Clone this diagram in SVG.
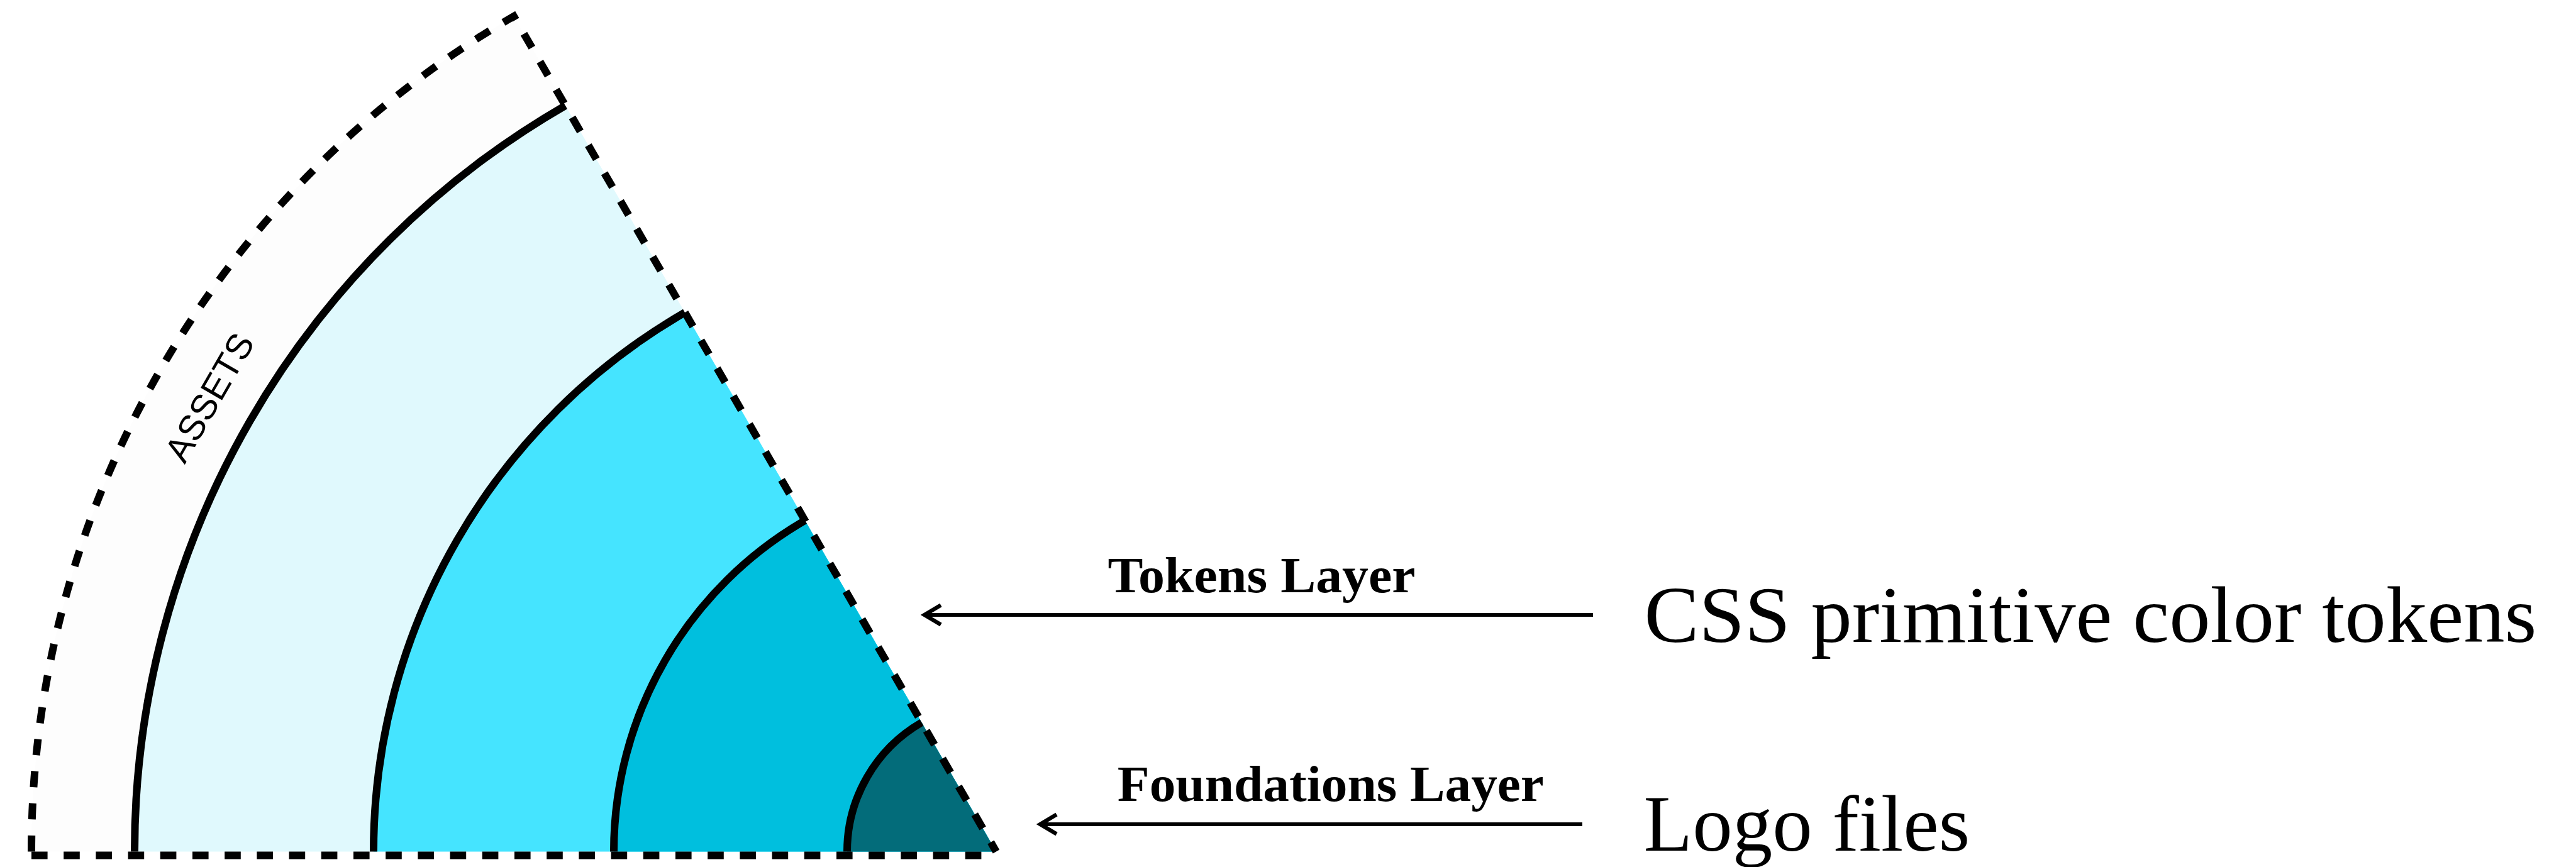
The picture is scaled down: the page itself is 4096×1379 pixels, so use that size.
<svg xmlns="http://www.w3.org/2000/svg" width="4096" height="1379" viewBox="0 0 4096 1379">
  <defs>
    <style>
      .arc { fill: none; stroke: #000; stroke-width: 12; stroke-linecap: butt; }
      .dash { fill: none; stroke: #000; stroke-width: 12; stroke-dasharray: 25.6 25.6; }
      .layer-label { font-family: "Liberation Serif", "Times New Roman", serif; font-weight: 700; font-size: 81px; fill: #000; }
      .note { font-family: "Liberation Serif", "Times New Roman", serif; font-weight: 400; font-size: 127px; fill: #000; }
      .ring-label { font-family: "Liberation Sans", Arial, sans-serif; font-size: 57px; fill: #000; }
      .pointer { fill: none; stroke: #000; stroke-width: 6; }
    </style>
    <marker id="chevron" markerUnits="userSpaceOnUse" viewBox="-32 -22 40 44" markerWidth="40" markerHeight="44" refX="0" refY="0" orient="auto">
      <path d="M -26 -15.5 L 0 0 L -26 15.5" fill="none" stroke="#000" stroke-width="6.4" stroke-linejoin="miter"/>
    </marker>
  </defs>

  <rect width="4096" height="1379" fill="#ffffff"/>

  <!-- Pie rings, centred on the bottom-right apex (1584, 1354.4), 60° wedge -->
  <g id="assets">
    <path d="M 1584 1354.4 L 50 1354.4 A 1534 1534 0 0 1 817 25.92 Z" fill="#fdfdfd"/>
    <text class="ring-label" transform="translate(332.6,631.9) rotate(-60)" x="0" y="20" text-anchor="middle">ASSETS</text>
  </g>

  <g id="ring-outer">
    <path d="M 1584 1354.4 L 214 1354.4 A 1370 1370 0 0 1 899 167.95 Z" fill="#e0f9fd"/>
    <path class="arc" d="M 214 1354.4 A 1370 1370 0 0 1 899 167.95"/>
  </g>

  <g id="ring-middle">
    <path d="M 1584 1354.4 L 594 1354.4 A 990 990 0 0 1 1089 497.04 Z" fill="#45e4ff"/>
    <path class="arc" d="M 594 1354.4 A 990 990 0 0 1 1089 497.04"/>
  </g>

  <g id="tokens-layer">
    <path d="M 1584 1354.4 L 976 1354.4 A 608 608 0 0 1 1280 827.86 Z" fill="#00bfde"/>
    <path class="arc" d="M 976 1354.4 A 608 608 0 0 1 1280 827.86"/>
  </g>

  <g id="foundations-layer">
    <path d="M 1584 1354.4 L 1347 1354.4 A 237 237 0 0 1 1465.5 1149.15 Z" fill="#036c7a"/>
    <path class="arc" d="M 1347 1354.4 A 237 237 0 0 1 1465.5 1149.15"/>
  </g>

  <!-- Dashed outline of the whole wedge -->
  <g id="wedge-outline">
    <path class="dash" d="M 50 1354.4 A 1534 1534 0 0 1 817 25.92 L 1584 1354.4"/>
    <path class="dash" d="M 50 1360.5 L 1584 1360.5"/>
  </g>

  <!-- Labels -->
  <g id="tokens-label">
    <text class="layer-label" x="1761.6" y="941.6" textLength="489" lengthAdjust="spacingAndGlyphs">Tokens Layer</text>
  </g>
  <g id="foundations-label">
    <text class="layer-label" x="1776.8" y="1273.6" textLength="678" lengthAdjust="spacingAndGlyphs">Foundations Layer</text>
  </g>
  <g id="css-tokens">
    <text class="note" x="2614.4" y="1020.8" textLength="1419" lengthAdjust="spacingAndGlyphs">CSS primitive color tokens</text>
  </g>
  <g id="logo-files">
    <text class="note" x="2613.6" y="1352.8">Logo files</text>
  </g>

  <!-- Connectors -->
  <g id="connectors">
    <path class="pointer" d="M 2533 978 L 1470 978" marker-end="url(#chevron)"/>
    <path class="pointer" d="M 2516 1311 L 1654 1311" marker-end="url(#chevron)"/>
  </g>
</svg>
